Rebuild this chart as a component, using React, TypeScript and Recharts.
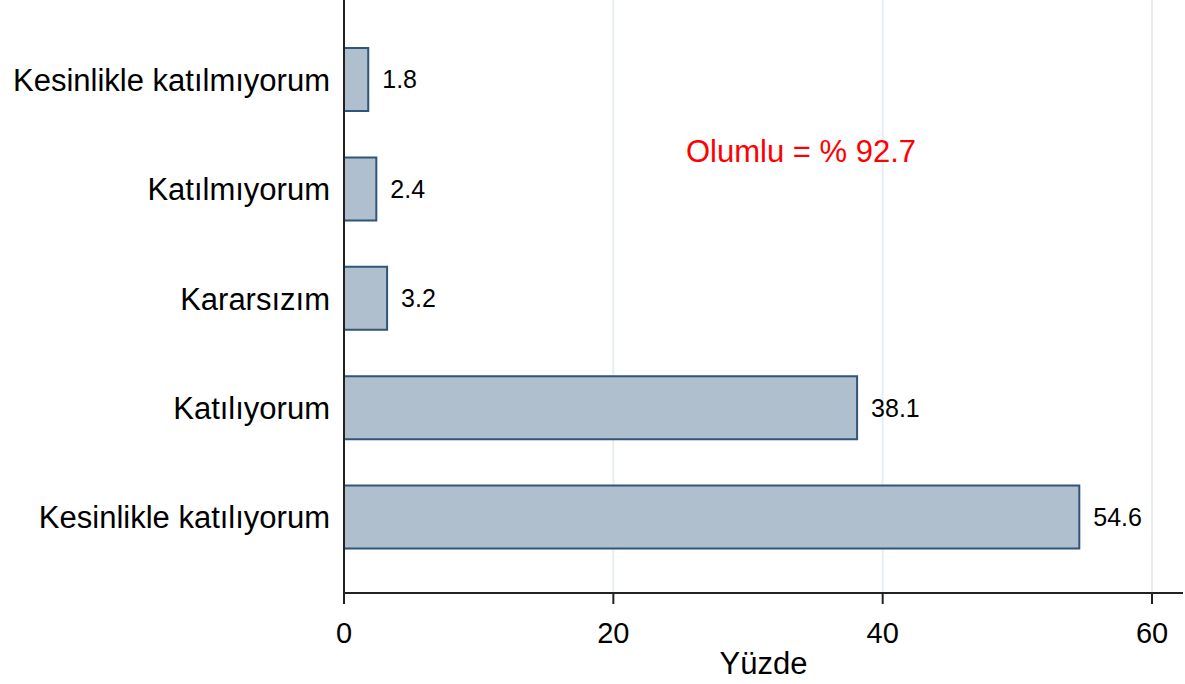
import { BarChart, Bar, XAxis, YAxis, CartesianGrid, LabelList } from "recharts";

// Response categories, top to bottom
const categories = [
	"Kesinlikle katılmıyorum",
	"Katılmıyorum",
	"Kararsızım",
	"Katılıyorum",
	"Kesinlikle katılıyorum",
];
const percentages = [1.8, 2.4, 3.2, 38.1, 54.6];
const xTicks = [0, 20, 40, 60];
const note = "Olumlu = % 92.7";

const FONT = "'Liberation Sans', Arial, sans-serif";

export default function App() {
	const data = categories.map((name, i) => ({ name, value: percentages[i] }));

	return (
		<div style={{ position: "absolute", left: 0, top: 0, width: 1185, height: 684, background: "#fff" }}>
			<BarChart
				width={1185}
				height={684}
				data={data}
				layout='vertical'
				margin={{ top: 0, right: 2, left: 0, bottom: 0 }}
				barSize={63}
			>
				<CartesianGrid horizontal={false} stroke='#e6eef2' strokeWidth={2} verticalValues={[20, 40, 60]} />
				<XAxis
					type='number'
					domain={[0, 62.3]}
					ticks={xTicks}
					allowDataOverflow
					height={91}
					stroke='#222'
					strokeWidth={2}
					tickSize={11}
					tickMargin={18}
					tick={{ fill: "#000", fontSize: 29, fontFamily: FONT }}
					label={{ value: "Yüzde", position: "insideBottom", offset: 10, fill: "#000", fontSize: 31, fontFamily: FONT }}
				/>
				<YAxis
					type='category'
					dataKey='name'
					width={344}
					stroke='#222'
					strokeWidth={2}
					tickSize={0}
					tickMargin={14}
					padding={{ top: 25, bottom: 21 }}
					tick={{ fill: "#000", fontSize: 31, fontFamily: FONT }}
				/>
				<Bar dataKey='value' fill='#b0bfce' stroke='#2f5578' strokeWidth={2} isAnimationActive={false}>
					<LabelList dataKey='value' position='right' offset={14} fill='#000' fontSize={25} fontFamily={FONT} />
				</Bar>
			</BarChart>
			<div
				style={{
					position: "absolute",
					left: 686,
					top: 134,
					color: "#ff0000",
					fontSize: 31,
					fontFamily: FONT,
					lineHeight: "36px",
					whiteSpace: "nowrap",
				}}
			>
				{note}
			</div>
		</div>
	);
}
